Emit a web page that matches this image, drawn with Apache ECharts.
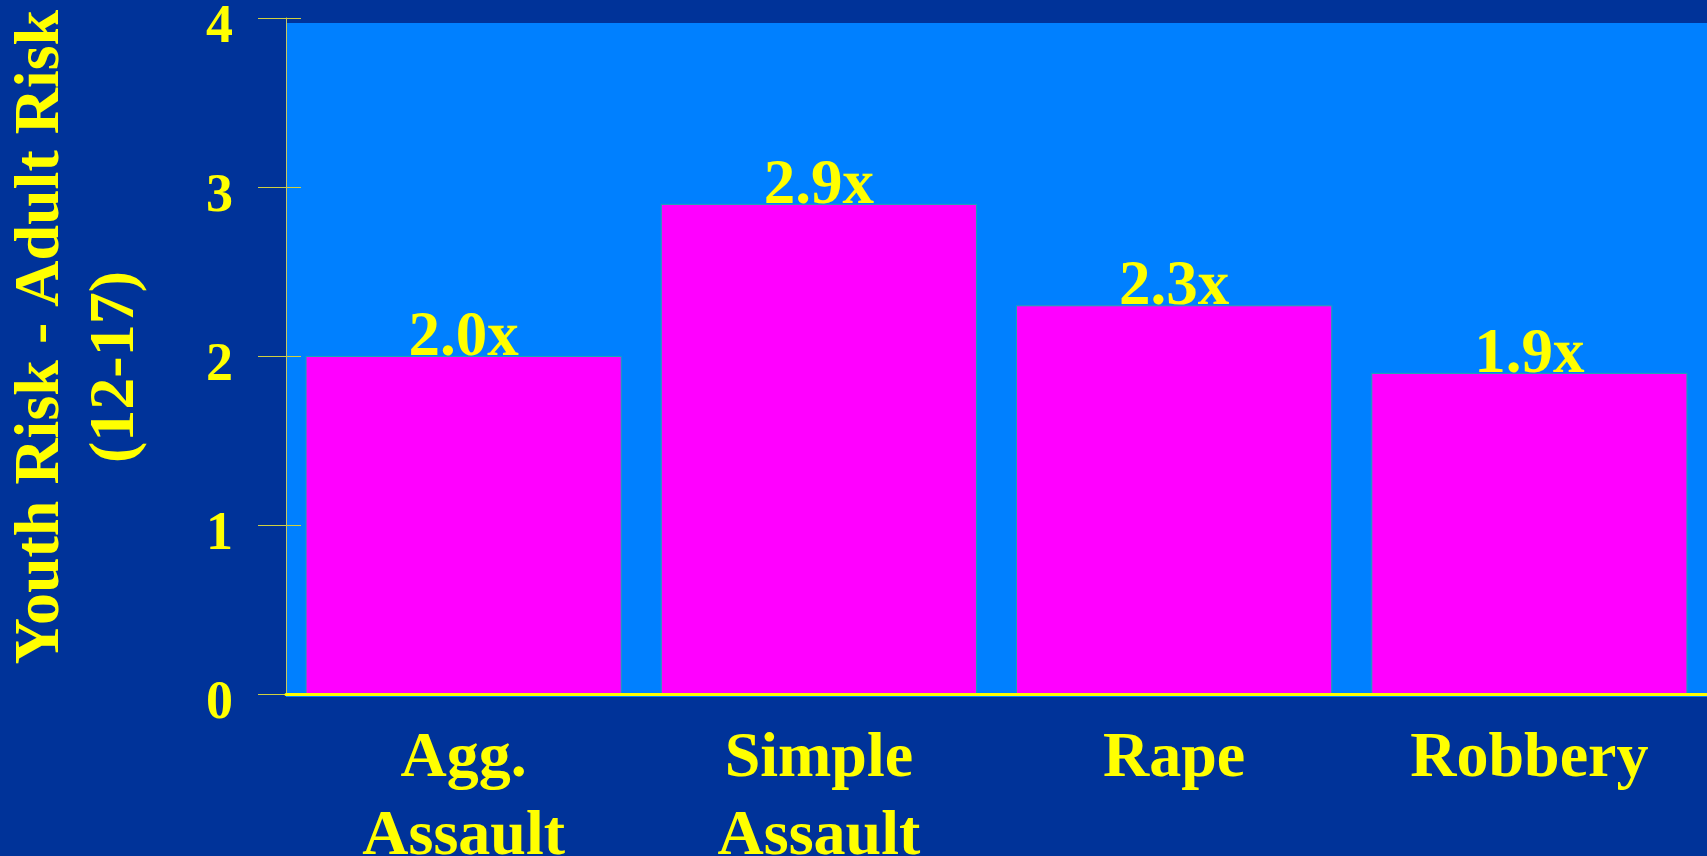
<!DOCTYPE html>
<html>
<head>
<meta charset="utf-8">
<style>
  html, body { margin: 0; padding: 0; background: #003399; overflow: hidden; }
  #chart { width: 1707px; height: 856px; }
</style>
<script src="https://cdn.jsdelivr.net/npm/echarts@6/dist/echarts.min.js"></script>
</head>
<body>
<div id="chart"></div>
<script>
// Youth-to-adult victimization risk ratio by offense
const categories = ['Agg.\nAssault', 'Simple\nAssault', 'Rape', 'Robbery'];
const ratios = [2.0, 2.9, 2.3, 1.9];
const ratioLabels = ['2.0x', '2.9x', '2.3x', '1.9x'];
const titleLines = ['Youth Risk - Adult Risk', '(12-17)'];

const SERIF = '"Liberation Serif", "Times New Roman", serif';
const YELLOW = '#FFFF00';

const chart = echarts.init(document.getElementById('chart'), null, { renderer: 'canvas' });

const valueAxisBase = { type: 'value', min: 0, max: 4, interval: 1, splitLine: { show: false } };

chart.setOption({
  backgroundColor: '#003399',
  animation: false,
  grid: { left: 286, right: 0, top: 18, bottom: 162, containLabel: false, outerBoundsMode: 'none' },
  graphic: {
    elements: [
      {
        type: 'rect', z: -10, silent: true,
        shape: { x: 286, y: 23, width: 1421, height: 674 },
        style: { fill: '#0080FF' }
      },
      {
        type: 'text', x: 41, y: 337, rotation: Math.PI / 2,
        style: { text: titleLines[0], fill: YELLOW, font: 'bold 64px ' + SERIF, align: 'center', verticalAlign: 'middle' }
      },
      {
        type: 'text', x: 116, y: 367, rotation: Math.PI / 2,
        style: { text: titleLines[1], fill: YELLOW, font: 'bold 64px ' + SERIF, align: 'center', verticalAlign: 'middle' }
      }
    ]
  },
  xAxis: {
    type: 'category',
    data: categories,
    z: 10,
    axisLine: { show: true, onZero: false, lineStyle: { color: YELLOW, width: 3, opacity: 1 } },
    axisTick: { show: false },
    axisLabel: {
      color: YELLOW, fontFamily: SERIF, fontWeight: 'bold', fontSize: 64,
      lineHeight: 78, margin: 26, interval: 0
    }
  },
  yAxis: [
    Object.assign({}, valueAxisBase, {
      axisLine: { show: true, lineStyle: { color: '#c8c860', width: 1 } },
      axisTick: { show: true, inside: false, length: 28, lineStyle: { color: '#d0d040', width: 1 } },
      axisLabel: {
        color: YELLOW, fontFamily: SERIF, fontWeight: 'bold', fontSize: 54,
        margin: 53, verticalAlign: 'top', lineHeight: 20,
        textShadowColor: '#000000', textShadowOffsetX: 2, textShadowOffsetY: 2, textShadowBlur: 0
      }
    }),
    Object.assign({}, valueAxisBase, {
      position: 'left', offset: 0,
      axisLine: { show: false },
      axisTick: { show: true, inside: true, length: 15, lineStyle: { color: '#d0d040', width: 1 } },
      axisLabel: { show: false }
    })
  ],
  series: [{
    type: 'bar',
    data: ratios,
    barCategoryGap: '11%',
    itemStyle: { color: '#FF00FF', borderColor: '#1aa8b0', borderWidth: 1 },
    label: {
      show: true, position: 'top', distance: -14,
      formatter: p => ratioLabels[p.dataIndex],
      color: YELLOW, fontFamily: SERIF, fontWeight: 'bold', fontSize: 63
    }
  }]
});
</script>
</body>
</html>
